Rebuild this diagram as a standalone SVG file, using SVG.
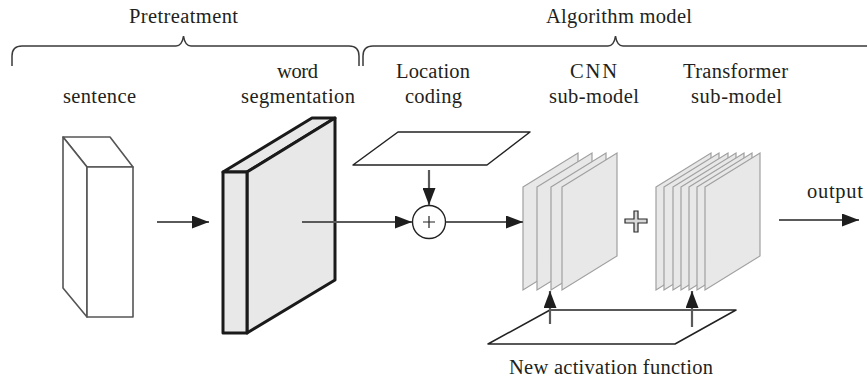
<svg xmlns="http://www.w3.org/2000/svg" width="867" height="381" viewBox="0 0 867 381">
<style>
text{font-family:"Liberation Serif","Times New Roman",serif;font-size:20.5px;fill:#231f20;text-anchor:middle}
.brace{fill:none;stroke:#3a3a3a;stroke-width:1.5}
.conn{stroke:#5a5a5a;stroke-width:2.2;fill:none}
.sheet{fill:#e8e8e8;stroke:#a0a0a0;stroke-width:1.2}
.plane{fill:#fff;stroke:#222;stroke-width:1.5;stroke-linejoin:round}
.box{fill:#fff;stroke:#555;stroke-width:1.6;stroke-linejoin:round}
.slab{fill:#e8e8e8;stroke:#1a1a1a;stroke-width:3;stroke-linejoin:round}
</style>
<defs>
<marker id="ah" markerUnits="userSpaceOnUse" markerWidth="17" markerHeight="13" refX="17" refY="6.5" orient="auto">
<path d="M0,0 L17,6.5 L0,13 z" fill="#1e1e1e"/>
</marker>
</defs>

<g id="pretreatment">
<path class="brace" d="M12,66 L12,56 Q12,46 22,46 L176,46 Q182,46 183.5,36 Q185,46 191,46 L349,46 Q359,46 359,56 L359,66"/>
<text x="183.5" y="23" textLength="109">Pretreatment</text>
</g>

<g id="algorithm-model">
<path class="brace" d="M363,66 L363,56 Q363,46 373,46 L608,46 Q614,46 615.5,36 Q617,46 623,46 L867,46"/>
<text x="619" y="23" textLength="146">Algorithm model</text>
</g>

<g id="sentence">
<text x="99.5" y="103" textLength="73">sentence</text>
<path class="box" d="M63,137 L110,137 L133,167 L87,167 Z"/>
<path class="box" d="M63,137 L87,167 L87,317 L63,288 Z"/>
<rect class="box" x="87" y="167" width="46" height="150"/>
</g>

<g id="word-segmentation">
<text x="297.5" y="78" textLength="41">word</text>
<text x="298" y="103" textLength="114">segmentation</text>
<path class="slab" d="M223,172 L312,118 L335,118 L247,172 Z"/>
<path class="slab" d="M247,172 L335,118 L335,280 L247,333 Z"/>
<rect class="slab" x="223" y="172" width="24" height="161"/>
</g>

<g id="location-coding">
<text x="433" y="78" textLength="74">Location</text>
<text x="433.5" y="103" textLength="57">coding</text>
<path class="plane" d="M398,132 L530,132 L487,165 L353,165 Z"/>
</g>

<g id="sum">
<circle cx="429" cy="222" r="16.5" fill="#fff" stroke="#222" stroke-width="1.4"/>
<path d="M423,222 H435 M429,216 V228" stroke="#222" stroke-width="1.2"/>
</g>

<g id="cnn-sub-model">
<text x="593.5" y="78" textLength="47">CNN</text>
<text x="594" y="103" textLength="90">sub-model</text>
<path class="sheet" d="M523,187 L578,153 L578,256 L523,290 Z"/>
<path class="sheet" d="M537,187 L592,153 L592,256 L537,290 Z"/>
<path class="sheet" d="M551,187 L606,153 L606,256 L551,290 Z"/>
<path class="sheet" d="M562,187 L617,153 L617,256 L562,290 Z"/>
</g>

<g id="plus">
<path d="M634,211 H638 V219 H647 V223 H638 V232 H634 V223 H625 V219 H634 Z" fill="#d8d8d8" stroke="#2a2a2a" stroke-width="1.2"/>
</g>

<g id="transformer-sub-model">
<text x="735.5" y="78" textLength="105">Transformer</text>
<text x="736.5" y="103" textLength="91">sub-model</text>
<path class="sheet" d="M656,187 L711,153 L711,256 L656,290 Z"/>
<path class="sheet" d="M664,187 L719,153 L719,256 L664,290 Z"/>
<path class="sheet" d="M673,187 L728,153 L728,256 L673,290 Z"/>
<path class="sheet" d="M681,187 L736,153 L736,256 L681,290 Z"/>
<path class="sheet" d="M689,187 L744,153 L744,256 L689,290 Z"/>
<path class="sheet" d="M697,187 L752,153 L752,256 L697,290 Z"/>
<path class="sheet" d="M705,187 L760,153 L760,256 L705,290 Z"/>
</g>

<g id="activation-function">
<path class="plane" d="M550,310 L736,310 L675,344 L488,344 Z"/>
<text x="611" y="374" textLength="204">New activation function</text>
</g>

<g id="output">
<text x="835" y="198" textLength="56">output</text>
</g>

<g id="connectors">
<line class="conn" x1="157" y1="222" x2="209" y2="222" marker-end="url(#ah)"/>
<line class="conn" x1="302" y1="222" x2="412" y2="222" marker-end="url(#ah)"/>
<line class="conn" x1="429" y1="170" x2="429" y2="205" marker-end="url(#ah)"/>
<line class="conn" x1="446" y1="222" x2="523" y2="222" marker-end="url(#ah)"/>
<line class="conn" x1="550" y1="324" x2="550" y2="291" marker-end="url(#ah)"/>
<line class="conn" x1="692" y1="327" x2="692" y2="291" marker-end="url(#ah)"/>
<line class="conn" x1="779" y1="220" x2="859" y2="220" marker-end="url(#ah)"/>
</g>
</svg>
